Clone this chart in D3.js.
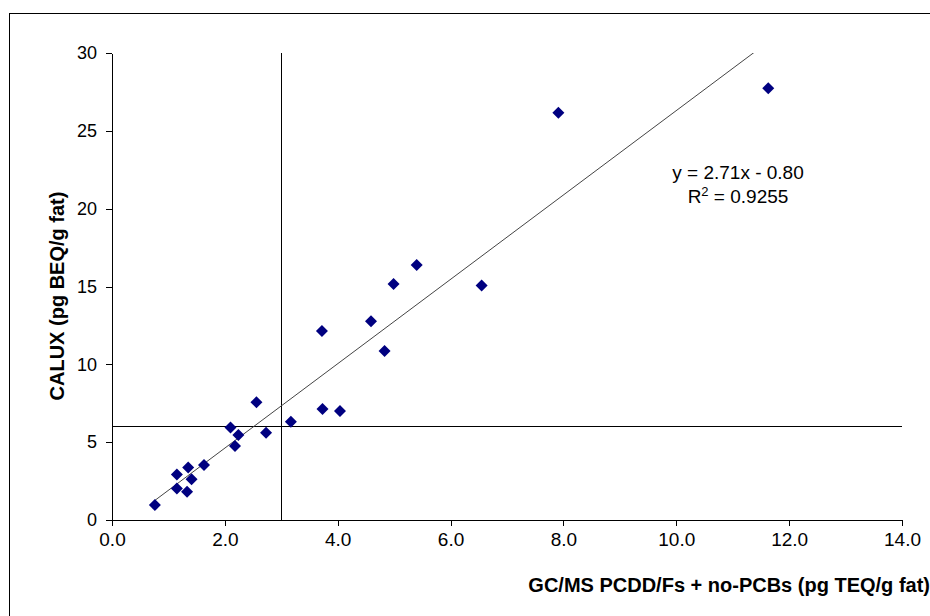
<!DOCTYPE html>
<html lang="en">
<head>
<meta charset="UTF-8">
<title>CALUX vs GC/MS</title>
<style>
body { margin: 0; background: #fff; }
.axis path, .axis line { fill: none; stroke: #000; shape-rendering: crispEdges; }
.axis text { font-family: "Liberation Sans", Arial, sans-serif; font-size: 19px; fill: #000; }
</style>
</head>
<body>
<script src="https://cdn.jsdelivr.net/npm/d3@7"></script>
<script>
// GC/MS TEQ (x) vs CALUX BEQ (y)
var gcms  = [0.76,1.15,1.15,1.33,1.35,1.41,1.63,2.10,2.18,2.24,2.56,2.73,3.17,3.72,3.73,4.04,4.59,4.83,4.99,5.40,6.55,7.91,11.63]
var calux = [0.96,2.93,2.03,1.82,3.38,2.61,3.53,5.95,4.75,5.46,7.56,5.61,6.31,12.14,7.13,7.00,12.76,10.85,15.16,16.38,15.07,26.16,27.73]
var xTicks = [0,2,4,6,8,10,12,14]
var yTicks = [0,5,10,15,20,25,30]
var slope = 2.71, intercept = -0.80
var xLimit = 3, yLimit = 6

var width = 930, height = 616
var padding = {left: 112, top: 53, right: 28, bottom: 96}
var font = '"Liberation Sans", Arial, sans-serif'

var svg = d3.select('body').append('svg').attr('width', width).attr('height', height)

// chart frame
svg.append('rect').attr('x', 9.5).attr('y', 13.5).attr('width', 940).attr('height', 640)
    .attr('fill', 'none').attr('stroke', '#000').attr('stroke-width', 1)

var x = d3.scaleLinear().domain([0, 14]).range([padding.left, width - padding.right])
var y = d3.scaleLinear().domain([0, 30]).range([height - padding.bottom, padding.top])

svg.append('defs').append('clipPath').attr('id', 'plot')
    .append('rect').attr('x', x(0)).attr('y', y(30)).attr('width', x(14) - x(0)).attr('height', y(0) - y(30))

var xAxis = d3.axisBottom(x).tickValues(xTicks).tickFormat(d3.format('.1f')).tickSizeInner(6).tickSizeOuter(0).tickPadding(7)
var yAxis = d3.axisLeft(y).tickValues(yTicks).tickSizeInner(6).tickSizeOuter(0).tickPadding(9)

svg.append('g').attr('class', 'axis').attr('transform', 'translate(0,' + y(0) + ')').call(xAxis)
svg.append('g').attr('class', 'axis').attr('transform', 'translate(' + x(0) + ',0)').call(yAxis)
    .selectAll('text').style('font-size', '18px')

// limit lines
svg.append('line').attr('x1', x(0)).attr('x2', x(14)).attr('y1', y(yLimit)).attr('y2', y(yLimit))
    .attr('stroke', '#000').attr('stroke-width', 1).attr('shape-rendering', 'crispEdges')
svg.append('line').attr('x1', x(xLimit)).attr('x2', x(xLimit)).attr('y1', y(0)).attr('y2', y(30))
    .attr('stroke', '#000').attr('stroke-width', 1).attr('shape-rendering', 'crispEdges')

// trendline
var xr = d3.extent(gcms)
var trend = [xr[0], xr[1]].map(function (v) { return {x: v, y: slope * v + intercept} })
var line = d3.line().x(function (d) { return x(d.x) }).y(function (d) { return y(d.y) })
svg.append('path').attr('d', line(trend)).attr('clip-path', 'url(#plot)')
    .attr('fill', 'none').attr('stroke', '#444').attr('stroke-width', 1)

// points
var pts = gcms.map(function (v, i) { return {x: v, y: calux[i]} })
var diamond = d3.symbol().type(d3.symbolSquare).size(72)
svg.append('g').selectAll('path').data(pts).enter().append('path')
    .attr('d', diamond)
    .attr('transform', function (d) { return 'translate(' + x(d.x) + ',' + y(d.y) + ') rotate(45)' })
    .attr('fill', '#000080')

// regression label
var eq = svg.append('text').attr('font-family', font).attr('font-size', 19)
    .attr('text-anchor', 'middle').attr('fill', '#000')
eq.append('tspan').attr('x', 738).attr('y', 179).text('y = 2.71x - 0.80')
var r2 = eq.append('tspan').attr('x', 738).attr('y', 203)
r2.append('tspan').text('R')
r2.append('tspan').attr('font-size', 13).attr('dy', -7).text('2')
r2.append('tspan').attr('dy', 7).text(' = 0.9255')

// axis titles
svg.append('text').attr('x', 930).attr('y', 592).attr('text-anchor', 'end')
    .attr('font-family', font).attr('font-size', 20).attr('font-weight', 'bold')
    .text('GC/MS PCDD/Fs + no-PCBs (pg TEQ/g fat)')
svg.append('text').attr('transform', 'translate(64,296) rotate(-90)').attr('text-anchor', 'middle')
    .attr('font-family', font).attr('font-size', 20).attr('font-weight', 'bold')
    .text('CALUX (pg BEQ/g fat)')
</script>
</body>
</html>
